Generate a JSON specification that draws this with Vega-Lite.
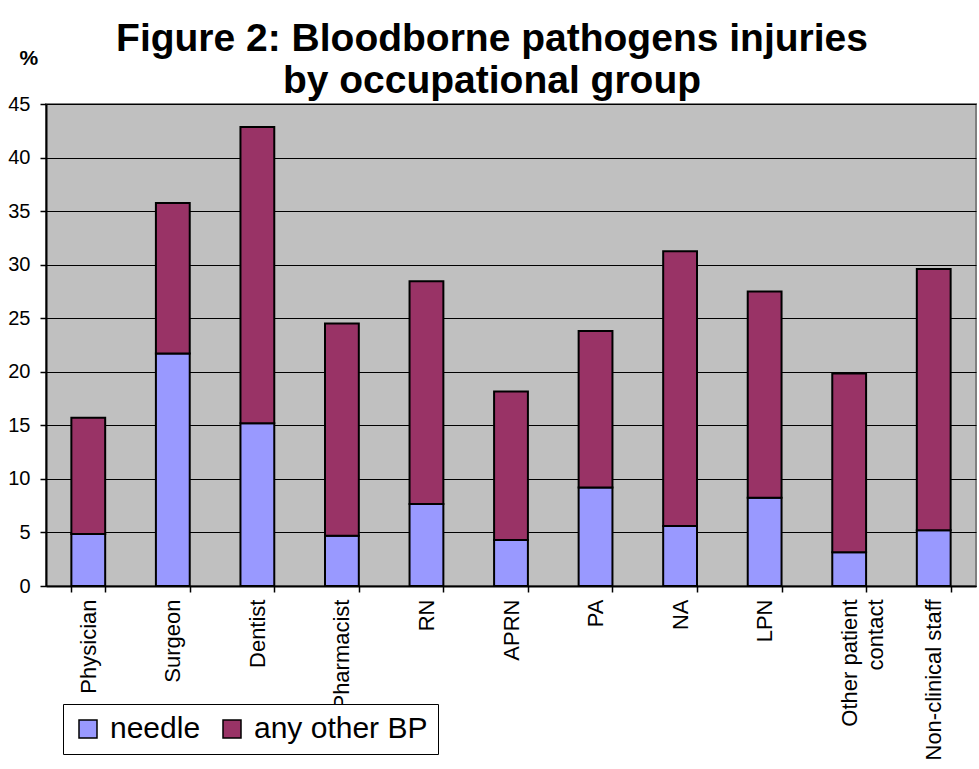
{
  "$schema": "https://vega.github.io/schema/vega-lite/v6.json",
  "autosize": {"type": "none"},
  "width": 930,
  "height": 482,
  "padding": {"left": 46, "top": 104, "right": 3, "bottom": 183},
  "background": "white",
  "title": {
    "text": ["Figure 2: Bloodborne pathogens injuries", "by occupational group"],
    "fontSize": 39,
    "fontWeight": "bold",
    "font": "Liberation Sans",
    "color": "black",
    "lineHeight": 42,
    "dx": -19,
    "offset": -54,
    "anchor": "middle"
  },
  "data": {
    "values": [
      {"group": "Physician", "type": "needle", "value": 4.85},
      {"group": "Physician", "type": "any other BP", "value": 10.85},
      {"group": "Surgeon", "type": "needle", "value": 21.7},
      {"group": "Surgeon", "type": "any other BP", "value": 14.05},
      {"group": "Dentist", "type": "needle", "value": 15.2},
      {"group": "Dentist", "type": "any other BP", "value": 27.65},
      {"group": "Pharmacist", "type": "needle", "value": 4.7},
      {"group": "Pharmacist", "type": "any other BP", "value": 19.8},
      {"group": "RN", "type": "needle", "value": 7.65},
      {"group": "RN", "type": "any other BP", "value": 20.8},
      {"group": "APRN", "type": "needle", "value": 4.3},
      {"group": "APRN", "type": "any other BP", "value": 13.85},
      {"group": "PA", "type": "needle", "value": 9.2},
      {"group": "PA", "type": "any other BP", "value": 14.6},
      {"group": "NA", "type": "needle", "value": 5.6},
      {"group": "NA", "type": "any other BP", "value": 25.65},
      {"group": "LPN", "type": "needle", "value": 8.25},
      {"group": "LPN", "type": "any other BP", "value": 19.25},
      {"group": "Other patient contact", "type": "needle", "value": 3.15},
      {"group": "Other patient contact", "type": "any other BP", "value": 16.7},
      {"group": "Non-clinical staff", "type": "needle", "value": 5.2},
      {"group": "Non-clinical staff", "type": "any other BP", "value": 24.4}
    ]
  },
  "mark": {"type": "bar", "stroke": "black", "strokeWidth": 2},
  "encoding": {
    "x": {
      "field": "group",
      "type": "nominal",
      "sort": null,
      "scale": {"paddingInner": 0.6, "paddingOuter": 0.3},
      "axis": {
        "title": null,
        "labelAngle": -90,
        "labelFontSize": 22,
        "labelColor": "black",
        "labelPadding": 7,
        "labelLineHeight": 26,
        "labelLimit": 250,
        "labelExpr": "datum.label == 'Other patient contact' ? ['Other patient', 'contact'] : datum.label",
        "tickBand": "extent",
        "tickSize": 6,
        "tickColor": "black",
        "tickWidth": 1.5,
        "domainColor": "black",
        "domainWidth": 2,
        "grid": false
      }
    },
    "y": {
      "field": "value",
      "type": "quantitative",
      "stack": "zero",
      "scale": {"domain": [0, 45], "nice": false},
      "axis": {
        "values": [0, 5, 10, 15, 20, 25, 30, 35, 40, 45],
        "grid": true,
        "gridColor": "black",
        "gridWidth": 1,
        "domainColor": "black",
        "domainWidth": 2,
        "tickColor": "black",
        "tickSize": 6,
        "tickWidth": 1.5,
        "labelFontSize": 20,
        "labelColor": "black",
        "labelPadding": 10,
        "title": "%",
        "titleAngle": 0,
        "titleFontSize": 21,
        "titleFontWeight": "bold",
        "titleColor": "black",
        "titleX": -27,
        "titleY": -40,
        "titleAlign": "left",
        "titleBaseline": "alphabetic"
      }
    },
    "color": {
      "field": "type",
      "type": "nominal",
      "sort": ["needle", "any other BP"],
      "scale": {"domain": ["needle", "any other BP"], "range": ["#9999FF", "#993366"]},
      "legend": {
        "title": null,
        "orient": "none",
        "legendX": 17,
        "legendY": 600,
        "direction": "horizontal",
        "padding": 10,
        "strokeColor": "black",
        "fillColor": "white",
        "symbolType": "square",
        "symbolSize": 324,
        "symbolStrokeColor": "black",
        "symbolStrokeWidth": 1.5,
        "symbolOpacity": 1,
        "labelFontSize": 30,
        "labelLimit": 300,
        "labelColor": "black",
        "labelOffset": 7,
        "columnPadding": 16
      }
    }
  },
  "config": {
    "font": "Liberation Sans",
    "view": {"fill": "#C0C0C0", "stroke": "#808080", "strokeWidth": 2}
  }
}
